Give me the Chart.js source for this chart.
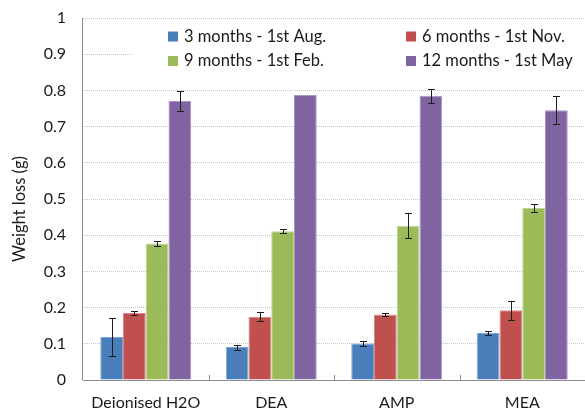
<!DOCTYPE html>
<html>
<head>
<meta charset="utf-8">
<script src="https://cdn.jsdelivr.net/npm/chart.js@4.4.1/dist/chart.umd.min.js"></script>
<style>
  html, body { margin: 0; padding: 0; background: #ffffff; }
  #wrap { width: 585px; height: 410px; position: relative; }
</style>
</head>
<body>
<div id="wrap"><canvas id="chart"></canvas></div>
<script>
// Categories (solutions) and tick labels
const categories = ['Deionised H2O', 'DEA', 'AMP', 'MEA'];
const yTicks = [0, 0.1, 0.2, 0.3, 0.4, 0.5, 0.6, 0.7, 0.8, 0.9, 1];

// Series labels
const seriesLabels = ['3 months - 1st Aug.', '6 months - 1st Nov.', '9 months - 1st Feb.', '12 months - 1st May'];

// Weight loss (g) per exposure period, with error bar half-widths
const months3 = [0.119, 0.091, 0.101, 0.130];
const months3Err = [0.052, 0.007, 0.008, 0.006];
const months6 = [0.185, 0.175, 0.181, 0.193];
const months6Err = [0.006, 0.012, 0.004, 0.026];
const months9 = [0.377, 0.411, 0.426, 0.475];
const months9Err = [0.006, 0.006, 0.034, 0.010];
const months12 = [0.771, 0.787, 0.785, 0.745];
const months12Err = [0.027, 0, 0.020, 0.039];

const FONT = 'Lato, "Open Sans", sans-serif';
const TEXT = '#1a1a1a';
const AXIS = '#8c8c8c';

const fills = ['#4A7EBB', '#C0504D', '#9BBB59', '#8064A2'];
const edges = ['#7fa3d1', '#d8888a', '#bfd493', '#a994c4'];
const values = [months3, months6, months9, months12];
const errors = [months3Err, months6Err, months9Err, months12Err];

const datasets = values.map((v, i) => ({
  label: seriesLabels[i],
  data: v,
  errors: errors[i],
  backgroundColor: fills[i],
  borderColor: edges[i],
  borderWidth: 1,
  categoryPercentage: 0.725,
  barPercentage: 1.0
}));

// Error bars drawn from each dataset's error values through the y scale
const errorBars = {
  id: 'errorBars',
  afterDatasetsDraw(chart) {
    const ctx = chart.ctx;
    const y = chart.scales.y;
    ctx.save();
    ctx.strokeStyle = '#1e1e1e';
    ctx.lineWidth = 1;
    chart.data.datasets.forEach((ds, di) => {
      const meta = chart.getDatasetMeta(di);
      meta.data.forEach((bar, i) => {
        const e = ds.errors[i];
        if (!e) return;
        const v = ds.data[i];
        const top = Math.round(y.getPixelForValue(v + e)) + 0.5;
        const bot = Math.round(y.getPixelForValue(v - e)) + 0.5;
        const x = Math.round(bar.x) + 0.5;
        ctx.beginPath();
        ctx.moveTo(x, top); ctx.lineTo(x, bot);
        ctx.moveTo(x - 3.5, top); ctx.lineTo(x + 3.5, top);
        ctx.moveTo(x - 3.5, bot); ctx.lineTo(x + 3.5, bot);
        ctx.stroke();
      });
    });
    ctx.restore();
  }
};

// Left axis line, inner tick marks between categories, legend panel, y-axis title
const decorations = {
  id: 'decorations',
  afterDraw(chart) {
    const ctx = chart.ctx;
    const xs = chart.scales.x;
    const area = chart.chartArea;
    ctx.save();
    ctx.strokeStyle = AXIS;
    ctx.lineWidth = 1;

    // solid vertical axis line
    const lx = Math.round(area.left) - 0.5;
    ctx.beginPath();
    ctx.moveTo(lx, area.top);
    ctx.lineTo(lx, area.bottom);
    ctx.stroke();

    // tick marks pointing into the plot at category boundaries
    const half = (xs.getPixelForValue(1) - xs.getPixelForValue(0)) / 2;
    for (let i = 1; i < categories.length; i++) {
      const px = Math.round(xs.getPixelForValue(i) - half) + 0.5;
      ctx.beginPath();
      ctx.moveTo(px, area.bottom);
      ctx.lineTo(px, area.bottom - 5);
      ctx.stroke();
    }

    // legend panel
    ctx.fillStyle = '#ffffff';
    ctx.fillRect(132, 22, area.right - 132, 56);
    const cols = [168, 406];
    const rows = [36.5, 61];
    ctx.font = '16.5px ' + FONT;
    ctx.textBaseline = 'middle';
    ctx.textAlign = 'left';
    chart.data.datasets.forEach((ds, i) => {
      const cx = cols[i % 2];
      const cy = rows[Math.floor(i / 2)];
      ctx.fillStyle = ds.backgroundColor;
      ctx.fillRect(cx, cy - 5, 10, 10);
      ctx.fillStyle = TEXT;
      ctx.fillText(ds.label, cx + 16, cy);
    });

    // y-axis title
    ctx.translate(20, 209);
    ctx.rotate(-Math.PI / 2);
    ctx.textAlign = 'center';
    ctx.fillStyle = TEXT;
    ctx.fillText('Weight loss (g)', 0, 0);
    ctx.restore();
  }
};

new Chart(document.getElementById('chart'), {
  type: 'bar',
  data: { labels: categories, datasets },
  options: {
    responsive: true,
    maintainAspectRatio: false,
    animation: false,
    layout: { padding: { top: 18, right: 0, left: 0, bottom: 0 } },
    plugins: { legend: { display: false }, tooltip: { enabled: false } },
    scales: {
      x: {
        grid: { display: false, drawTicks: false },
        border: { display: true, color: AXIS, width: 1 },
        ticks: { color: TEXT, font: { family: FONT, size: 16 }, padding: 13, maxRotation: 0 },
        afterFit(s) { s.height = 30; }
      },
      y: {
        min: 0, max: 1,
        afterBuildTicks(s) { s.ticks = yTicks.map(v => ({ value: v })); },
        grid: { color: '#c4c4c4', lineWidth: 1, drawTicks: false },
        border: { display: false, dash: [1, 1] },
        ticks: {
          color: TEXT, font: { family: FONT, size: 16 }, padding: 17,
          callback: (v) => String(v)
        },
        afterFit(s) {
          s.width = 83;
          s.paddingTop = 0;
          s.paddingBottom = 0;
        }
      }
    }
  },
  plugins: [errorBars, decorations]
});
</script>
</body>
</html>
